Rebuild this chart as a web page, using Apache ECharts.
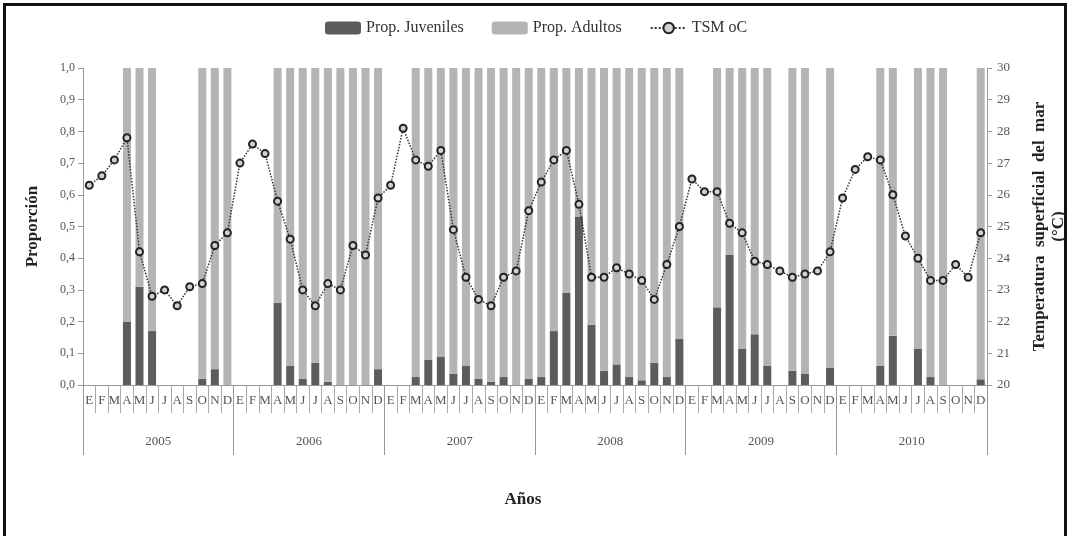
<!DOCTYPE html>
<html>
<head>
<meta charset="utf-8">
<script src="https://cdn.jsdelivr.net/npm/echarts@6/dist/echarts.min.js"></script>
<style>
  html, body { margin: 0; padding: 0; background: #fff; }
  #frame { position: absolute; left: 3px; top: 3px; width: 1058px; height: 540px;
           border: 3px solid #111; border-bottom: none; }
  #chart { position: absolute; left: 0; top: 0; width: 1070px; height: 536px; }
</style>
</head>
<body>
<div id="frame"></div>
<div id="chart"></div>
<script>
// meses y años
const months = ['E','F','M','A','M','J','J','A','S','O','N','D']
const years = ['2005','2006','2007','2008','2009','2010']

// proporción de juveniles (null = sin muestreo)
const juv2005 = [null,null,null,0.20,0.31,0.17,null,null,null,0.02,0.05,0.00]
const juv2006 = [null,null,null,0.26,0.06,0.02,0.07,0.01,0.00,0.00,0.00,0.05]
const juv2007 = [null,null,0.025,0.08,0.09,0.035,0.06,0.02,0.01,0.025,0.00,0.02]
const juv2008 = [0.025,0.17,0.29,0.53,0.19,0.045,0.065,0.025,0.015,0.07,0.025,0.145]
const juv2009 = [null,null,0.245,0.41,0.115,0.16,0.06,null,0.045,0.035,null,0.055]
const juv2010 = [null,null,null,0.06,0.155,null,0.115,0.025,0.00,null,null,0.018]

// proporción de adultos
const adu2005 = [null,null,null,0.80,0.69,0.83,null,null,null,0.98,0.95,1.00]
const adu2006 = [null,null,null,0.74,0.94,0.98,0.93,0.99,1.00,1.00,1.00,0.95]
const adu2007 = [null,null,0.975,0.92,0.91,0.965,0.94,0.98,0.99,0.975,1.00,0.98]
const adu2008 = [0.975,0.83,0.71,0.47,0.81,0.955,0.935,0.975,0.985,0.93,0.975,0.855]
const adu2009 = [null,null,0.755,0.59,0.885,0.84,0.94,null,0.955,0.965,null,0.945]
const adu2010 = [null,null,null,0.94,0.845,null,0.885,0.975,1.00,null,null,0.982]

// temperatura superficial del mar (°C)
const tsm2005 = [26.3,26.6,27.1,27.8,24.2,22.8,23.0,22.5,23.1,23.2,24.4,24.8]
const tsm2006 = [27.0,27.6,27.3,25.8,24.6,23.0,22.5,23.2,23.0,24.4,24.1,25.9]
const tsm2007 = [26.3,28.1,27.1,26.9,27.4,24.9,23.4,22.7,22.5,23.4,23.6,25.5]
const tsm2008 = [26.4,27.1,27.4,25.7,23.4,23.4,23.7,23.5,23.3,22.7,23.8,25.0]
const tsm2009 = [26.5,26.1,26.1,25.1,24.8,23.9,23.8,23.6,23.4,23.5,23.6,24.2]
const tsm2010 = [25.9,26.8,27.2,27.1,26.0,24.7,24.0,23.3,23.3,23.8,23.4,24.8]

const monthAxis = years.flatMap(() => months)
const juveniles = [].concat(juv2005, juv2006, juv2007, juv2008, juv2009, juv2010)
const adultos = [].concat(adu2005, adu2006, adu2007, adu2008, adu2009, adu2010)
const tsm = [].concat(tsm2005, tsm2006, tsm2007, tsm2008, tsm2009, tsm2010)

const font = 'Liberation Serif'
const chart = echarts.init(document.getElementById('chart'))

chart.setOption({
  animation: false,
  textStyle: { fontFamily: font },
  legend: {
    top: 15,
    left: 320,
    itemGap: 28,
    itemWidth: 36,
    itemHeight: 13,
    textStyle: { fontFamily: font, fontSize: 16, color: '#333' },
    data: ['Prop. Juveniles', 'Prop. Adultos', 'TSM oC']
  },
  // posición fija del área de trazado
  grid: { left: 83, right: 83, top: 68, bottom: 151, containLabel: false, outerBoundsMode: 'none' },
  xAxis: [
    {
      type: 'category',
      data: monthAxis,
      axisLine: { lineStyle: { color: '#999' } },
      axisTick: { show: true, interval: 0, length: 28, lineStyle: { color: '#aaa' } },
      axisLabel: { interval: 0, margin: 9, fontSize: 13, color: '#555', fontFamily: font }
    },
    {
      type: 'category',
      data: years,
      position: 'bottom',
      axisLine: { show: false },
      axisTick: { show: true, interval: 0, length: 70, lineStyle: { color: '#999' } },
      axisLabel: { interval: 0, margin: 50, fontSize: 13, color: '#555', fontFamily: font },
      name: 'Años',
      nameLocation: 'middle',
      nameGap: 106,
      nameTextStyle: { fontFamily: font, fontSize: 17, fontWeight: 'bold', color: '#222', padding: [0, 24, 0, 0] }
    }
  ],
  yAxis: [
    {
      type: 'value',
      min: 0,
      max: 1,
      interval: 0.1,
      splitLine: { show: false },
      axisLine: { show: true, lineStyle: { color: '#999' } },
      axisTick: { show: true, length: 5, lineStyle: { color: '#999' } },
      axisLabel: {
        fontSize: 12, color: '#555', fontFamily: font, margin: 8,
        formatter: v => v.toFixed(1).replace('.', ',')
      },
      name: 'Proporción',
      nameLocation: 'middle',
      nameGap: 42,
      nameTextStyle: { fontFamily: font, fontSize: 17, fontWeight: 'bold', color: '#222' }
    },
    {
      type: 'value',
      min: 20,
      max: 30,
      interval: 1,
      position: 'right',
      splitLine: { show: false },
      axisLine: { show: true, lineStyle: { color: '#999' } },
      axisTick: { show: true, length: 5, lineStyle: { color: '#999' } },
      axisLabel: { fontSize: 13, color: '#555', fontFamily: font, margin: 10 },
      name: 'Temperatura  superficial  del  mar\n(°C)',
      nameLocation: 'middle',
      nameGap: 43,
      nameTextStyle: { fontFamily: font, fontSize: 17, fontWeight: 'bold', color: '#222', lineHeight: 19 }
    }
  ],
  series: [
    {
      name: 'Prop. Juveniles',
      type: 'bar',
      stack: 'prop',
      barWidth: 8,
      itemStyle: { color: '#5c5c5c' },
      data: juveniles
    },
    {
      name: 'Prop. Adultos',
      type: 'bar',
      stack: 'prop',
      barWidth: 8,
      itemStyle: { color: '#b4b4b4' },
      data: adultos
    },
    {
      name: 'TSM oC',
      type: 'line',
      yAxisIndex: 1,
      symbol: 'circle',
      symbolSize: 7,
      lineStyle: { type: 'dotted', color: '#333', width: 1.5 },
      itemStyle: { color: '#d0d0d0', borderColor: '#222', borderWidth: 2 },
      data: tsm
    }
  ]
})
</script>
</body>
</html>
